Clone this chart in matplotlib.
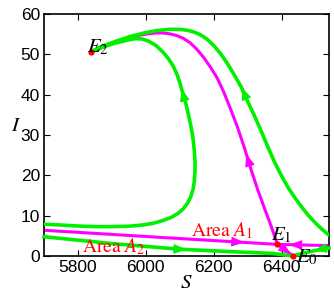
import numpy as np
import matplotlib
matplotlib.use("Agg")
import matplotlib.pyplot as plt
from matplotlib.patches import FancyArrowPatch

plt.rcParams['mathtext.fontset'] = 'stix'

# ---- data ----
# outer green orbit: from lower right towards E2
outer_S = [6540, 6520, 6500, 6480, 6460, 6440, 6420, 6400, 6380, 6360, 6340, 6320,
           6300, 6282, 6260, 6240, 6220, 6200, 6180, 6160, 6140, 6120, 6100, 6070,
           6032, 5995, 5953, 5910, 5865, 5838]
outer_I = [5.2, 6.6, 8.2, 10.0, 12.1, 14.4, 16.9, 19.9, 23.2, 27.0, 31.0, 34.8,
           38.4, 41.8, 45.0, 47.8, 50.2, 52.2, 53.8, 54.9, 55.6, 56.0, 56.2, 56.2,
           55.9, 55.3, 54.4, 53.2, 51.8, 50.6]

# inner green orbit: from left edge towards E2
inner_S = [5700, 5750, 5800, 5850, 5900, 5950, 5990, 6020, 6050, 6075, 6095, 6110,
           6122, 6132, 6139, 6143, 6145, 6145, 6143, 6140, 6136, 6131, 6125, 6118,
           6110, 6102, 6092, 6080, 6066, 6050, 6030, 6010, 5990, 5970, 5950, 5910,
           5880, 5860, 5838]
inner_I = [7.9, 7.7, 7.45, 7.3, 7.3, 7.4, 7.7, 8.1, 8.8, 9.6, 10.6, 11.7,
           13.0, 14.6, 16.5, 18.6, 21.0, 23.5, 26.0, 28.5, 30.8, 33.0, 35.3, 37.8,
           40.0, 42.5, 45.0, 47.2, 49.0, 50.6, 52.2, 53.2, 53.8, 53.9, 53.6, 52.8,
           52.0, 51.4, 50.6]

# magenta unstable manifold of E1: from E1 towards E2
mag_S = [6388, 6370, 6350, 6330, 6310, 6290, 6270, 6250, 6230, 6210, 6190, 6170,
         6150, 6130, 6110, 6090, 6070, 6050, 6030, 6000, 5970, 5953, 5910, 5865,
         5838]
mag_I = [2.9, 7.3, 11.8, 16.4, 21.5, 27.0, 32.0, 36.4, 40.6, 44.2, 46.9, 49.3,
         51.3, 52.9, 54.0, 54.7, 55.1, 55.3, 55.3, 55.0, 54.6, 54.3, 53.0, 51.5,
         50.6]

# magenta stable manifold of E1 (from left and from right)
magL_S = [5700, 6050, 6388]
magL_I = [6.4, 4.6, 2.9]
magR_S = [6540, 6388]
magR_I = [2.6, 2.9]
# magenta connection E1 -> E0
magC_S = [6388, 6435]
magC_I = [2.9, 0.0]

# green stable manifold of E0 (from left and from right)
grnL_S = [5700, 5900, 6100, 6250, 6374, 6435]
grnL_I = [4.8, 3.1, 1.7, 1.1, 0.65, 0.0]
grnR_S = [6540, 6500, 6462, 6435]
grnR_I = [2.0, 1.4, 0.7, 0.0]

# equilibria
eq_S = [6435, 6388, 5838]
eq_I = [0.0, 2.9, 50.6]

xticks = [5800, 6000, 6200, 6400]
yticks = [0, 10, 20, 30, 40, 50, 60]

# ---- styling ----
GREEN = '#00f000'
MAG = '#ff00ff'
RED = '#ff0000'

fig = plt.figure(figsize=(3.34, 2.92), dpi=100)
ax = fig.add_axes([0.132, 0.123, 0.853, 0.829])
ax.set_xlim(5700, 6540)
ax.set_ylim(0, 60)


def arrow_on(xs, ys, i, frac, color):
    x0, y0, x1, y1 = xs[i], ys[i], xs[i + 1], ys[i + 1]
    tip = (x0 + frac * (x1 - x0), y0 + frac * (y1 - y0))
    ax.add_patch(FancyArrowPatch(posA=(x0, y0), posB=tip,
                                 arrowstyle='-|>,head_length=0.65,head_width=0.25',
                                 mutation_scale=12, color=color, lw=0.8,
                                 shrinkA=0, shrinkB=0, zorder=4))


lw_g = 2.6
lw_m = 2.2
ax.plot(magL_S, magL_I, color=MAG, lw=lw_m, zorder=2)
ax.plot(magR_S, magR_I, color=MAG, lw=lw_m, zorder=2)
ax.plot(magC_S, magC_I, color=MAG, lw=lw_m, zorder=2)
ax.plot(mag_S, mag_I, color=MAG, lw=lw_m, zorder=2)
ax.plot(grnL_S, grnL_I, color=GREEN, lw=lw_g, zorder=3, clip_on=False)
ax.plot(grnR_S, grnR_I, color=GREEN, lw=lw_g, zorder=3, clip_on=False)
ax.plot(inner_S, inner_I, color=GREEN, lw=lw_g, zorder=3, solid_capstyle='round')
ax.plot(outer_S, outer_I, color=GREEN, lw=lw_g, zorder=3, solid_capstyle='round')

arrow_on(outer_S, outer_I, 12, 1.0, GREEN)
arrow_on(inner_S, inner_I, 24, 0.6, GREEN)
arrow_on(mag_S, mag_I, 4, 0.7, MAG)
arrow_on(magL_S, magL_I, 1, 0.71, MAG)
arrow_on(magR_S, magR_I, 0, 0.77, MAG)
arrow_on(magC_S, magC_I, 0, 0.85, MAG)
arrow_on(grnL_S, grnL_I, 2, 0.13, GREEN)
arrow_on(grnR_S, grnR_I, 1, 0.1, GREEN)

ax.plot(eq_S, eq_I, 'o', color=RED, ms=4.5, zorder=6, clip_on=False, mec='none')

# labels of equilibria
ax.text(5826, 50.6, r'$E_2$', fontsize=15, color='black', zorder=7)
ax.text(6369, 3.8, r'$E_1$', fontsize=15, color='black', zorder=7)
ax.text(6442, -1.5, r'$E_0$', fontsize=15, color='black', zorder=7, clip_on=False)

ax.text(6133, 4.9, r'Area $A_1$', fontsize=14, color=RED, family='STIXGeneral', zorder=7)
ax.text(5813, 0.9, r'Area $A_2$', fontsize=14, color=RED, family='STIXGeneral', zorder=7)

ax.set_xticks(xticks)
ax.set_yticks(yticks)
ax.tick_params(direction='in', top=True, right=True, length=4, width=0.8,
               labelsize=12.5, pad=3)
for lab in ax.get_xticklabels() + ax.get_yticklabels():
    lab.set_family('Liberation Sans')
for sp in ax.spines.values():
    sp.set_linewidth(1.2)

ax.set_xlabel(r'$S$', fontsize=15, labelpad=-2)
ax.set_ylabel(r'$I$', fontsize=15, rotation=0, labelpad=4)
ax.yaxis.set_label_coords(-0.1, 0.5)

fig.savefig('out.png', dpi=100)
